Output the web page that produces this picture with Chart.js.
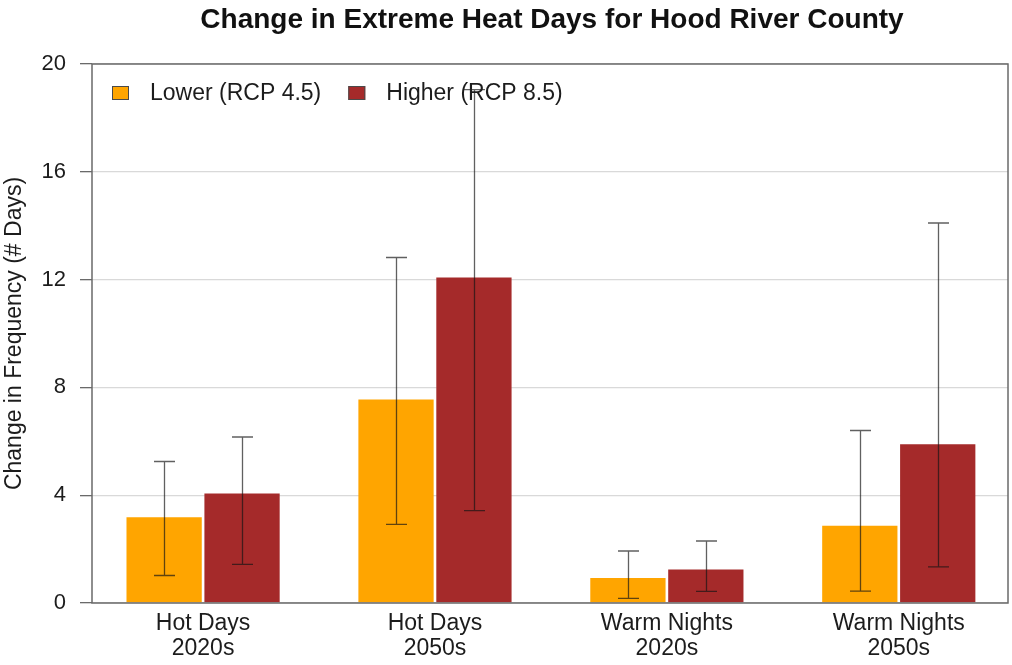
<!DOCTYPE html>
<html>
<head>
<meta charset="utf-8">
<script src="https://cdn.jsdelivr.net/npm/chart.js@4.4.1/dist/chart.umd.min.js"></script>
<style>
  html, body { margin: 0; padding: 0; background: #ffffff; }
  #wrap { width: 1012px; height: 665px; position: relative; }
</style>
</head>
<body>
<div id="wrap"><canvas id="c"></canvas></div>
<script>
const chartTitle = "Change in Extreme Heat Days for Hood River County";
const yTitle = "Change in Frequency (# Days)";
const categories = [["Hot Days", "2020s"], ["Hot Days", "2050s"], ["Warm Nights", "2020s"], ["Warm Nights", "2050s"]];
const seriesNames = ["Lower (RCP 4.5)", "Higher (RCP 8.5)"];
const lowerValues = [3.18, 7.55, 0.93, 2.87];
const lowerErrMin = [1.02, 2.92, 0.17, 0.44];
const lowerErrMax = [5.25, 12.82, 1.93, 6.4];
const higherValues = [4.06, 12.08, 1.24, 5.89];
const higherErrMin = [1.43, 3.43, 0.43, 1.34];
const higherErrMax = [6.16, 19.05, 2.3, 14.1];
const yTicks = [0, 4, 8, 12, 16, 20];

const FONT = "'Liberation Sans', Arial, Helvetica, sans-serif";
const TEXT = "#1c1c1c";
const COLORS = ["#FFA500", "#A52A2A"];

const errPlugin = {
  id: 'errorBars',
  afterDatasetsDraw(chart) {
    const ctx = chart.ctx;
    const ys = chart.scales.y;
    chart.data.datasets.forEach((ds, di) => {
      const meta = chart.getDatasetMeta(di);
      meta.data.forEach((bar, j) => {
        const lo = ys.getPixelForValue(ds.errMin[j]);
        const hi = ys.getPixelForValue(ds.errMax[j]);
        const x = Math.round(bar.x) + 0.5;
        ctx.save();
        ctx.strokeStyle = 'rgba(20,20,20,0.68)';
        ctx.lineWidth = 1.3;
        ctx.beginPath();
        ctx.moveTo(x, lo); ctx.lineTo(x, hi);
        ctx.moveTo(x - 10.5, lo); ctx.lineTo(x + 10.5, lo);
        ctx.moveTo(x - 10.5, hi); ctx.lineTo(x + 10.5, hi);
        ctx.stroke();
        ctx.restore();
      });
    });
  }
};

const framePlugin = {
  id: 'frameTitleLegend',
  afterDraw(chart) {
    const ctx = chart.ctx;
    const a = chart.chartArea;
    ctx.save();
    // frame
    ctx.strokeStyle = '#6a6a6a';
    ctx.lineWidth = 1.5;
    ctx.strokeRect(a.left, a.top, a.right - a.left, a.bottom - a.top);
    // title
    ctx.fillStyle = '#111';
    ctx.font = "bold 28px " + FONT;
    ctx.textAlign = 'center';
    ctx.textBaseline = 'alphabetic';
    ctx.fillText(chartTitle, (a.left + a.right) / 2 + 2, 28);
    // legend
    ctx.font = "23px " + FONT;
    ctx.textAlign = 'left';
    ctx.textBaseline = 'middle';
    let x = a.left + 20;
    const yc = a.top + 29;
    chart.data.datasets.forEach((ds) => {
      ctx.fillStyle = ds.backgroundColor;
      ctx.fillRect(x, yc - 7, 17, 14);
      ctx.strokeStyle = '#4a4a4a';
      ctx.lineWidth = 1;
      ctx.strokeRect(x + 0.5, yc - 6.5, 16, 13);
      ctx.fillStyle = TEXT;
      const tx = x + 38;
      ctx.fillText(ds.label, tx, yc + 1);
      x = tx + ctx.measureText(ds.label).width + 27;
    });
    ctx.restore();
  }
};

const makeData = (vals) => vals.map((v, i) => ({ x: i, y: v }));

new Chart(document.getElementById('c'), {
  type: 'bar',
  data: {
    datasets: [
      { label: seriesNames[0], data: makeData(lowerValues), errMin: lowerErrMin, errMax: lowerErrMax,
        backgroundColor: COLORS[0], borderWidth: 0 },
      { label: seriesNames[1], data: makeData(higherValues), errMin: higherErrMin, errMax: higherErrMax,
        backgroundColor: COLORS[1], borderWidth: 0 }
    ]
  },
  options: {
    responsive: true,
    maintainAspectRatio: false,
    animation: false,
    categoryPercentage: 0.672,
    barPercentage: 0.966,
    layout: { padding: { top: 64, right: 4, bottom: 0, left: 0 } },
    plugins: {
      legend: { display: false },
      title: { display: false },
      tooltip: { enabled: false }
    },
    scales: {
      x: {
        type: 'linear',
        min: -0.479,
        max: 3.471,
        offset: false,
        grid: { display: false, drawTicks: false },
        border: { display: false },
        afterBuildTicks(s) { s.ticks = categories.map((c, i) => ({ value: i })); },
        afterFit(s) { s.height = 62; },
        ticks: {
          autoSkip: false,
          maxRotation: 0,
          padding: 8,
          color: TEXT,
          font: { family: FONT, size: 23, lineHeight: 1.09 },
          callback: (v) => categories[v]
        }
      },
      y: {
        min: 0,
        max: 20,
        z: 1,
        afterBuildTicks(s) { s.ticks = yTicks.map(v => ({ value: v })); },
        afterFit(s) { s.width = 92; },
        grid: {
          color: 'rgba(185,185,185,0.55)',
          lineWidth: 1.3,
          drawTicks: true,
          tickLength: 12,
          tickColor: '#6a6a6a',
          tickWidth: 1.3
        },
        border: { display: false },
        ticks: {
          padding: 14,
          color: TEXT,
          font: { family: FONT, size: 22 }
        },
        title: {
          display: true,
          text: yTitle,
          color: TEXT,
          font: { family: FONT, size: 23 },
          padding: { top: 1, bottom: 0 }
        }
      }
    }
  },
  plugins: [errPlugin, framePlugin]
});
</script>
</body>
</html>
